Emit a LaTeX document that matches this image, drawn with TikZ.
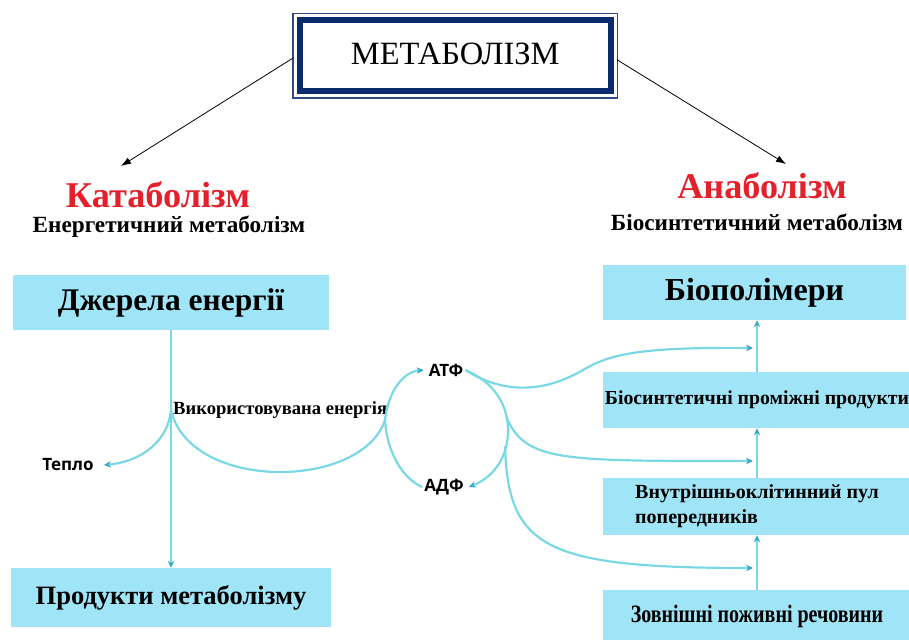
\documentclass[tikz,border=0pt]{standalone}
\usepackage{fontspec}
\setmainfont{Liberation Serif}
\newfontfamily\lblfont{Open Sans}
\usetikzlibrary{arrows.meta}
\definecolor{boxfill}{HTML}{A0E4F7}
\definecolor{flowc}{HTML}{7AD8E4}
\definecolor{tipc}{HTML}{2FA9C6}
\definecolor{navy}{HTML}{0C2B6E}
\definecolor{redt}{HTML}{E4212B}
\begin{document}
\begin{tikzpicture}[x=1pt,y=-1pt,
  box/.style={fill=boxfill, draw=none, inner sep=0pt, font=\bfseries},
  flow/.style={draw=flowc, line width=2.2pt},
  tip/.style={-{Stealth[length=7pt,width=6.5pt,color=tipc]}},
  blk/.style={-{Latex[length=10pt,width=7pt]}, line width=0.8pt, black},
  sml/.style={font=\lblfont\bfseries\fontsize{17}{20}\selectfont, inner sep=2pt}]
\useasboundingbox (0,0) rectangle (909,639);

% title
\node[draw=navy, line width=6pt, minimum width=311.5pt, minimum height=71.5pt,
      font=\fontsize{32.5}{38}\selectfont] (title) at (455.25,55.75) {\raisebox{4pt}{МЕТАБОЛІЗМ}};
\draw[navy!85, line width=1.1pt] ([shift={(-3.5pt,3.5pt)}]title.north west) rectangle ([shift={(3.5pt,-3.5pt)}]title.south east);

% headings
\node[text=redt, font=\bfseries\fontsize{36.3}{42}\selectfont] (kat) at (158,195) {Катаболізм};
\node[font=\bfseries\fontsize{23.2}{27}\selectfont] (katsub) at (169,227) {Енергетичний метаболізм};
\node[text=redt, font=\bfseries\fontsize{36.2}{42}\selectfont] (ana) at (762,186) {Анаболізм};
\node[font=\bfseries\fontsize{23.2}{27}\selectfont] (anasub) at (757,222) {Біосинтетичний метаболізм};
\coordinate (kin) at (121,166);
\coordinate (ain) at (786,164);
\draw[blk] ([xshift=-3pt,yshift=-2pt]title.west) -- (kin);
\draw[blk] ([xshift=3pt,yshift=-4pt]title.east) -- (ain);

% left boxes
\node[box, minimum width=316pt, minimum height=55pt, font=\bfseries\fontsize{31.5}{36}\selectfont] (src) at (171,302.5) {Джерела енергії};
\node[box, minimum width=320pt, minimum height=59pt, font=\bfseries\fontsize{26.5}{30}\selectfont] (prod) at (171,597.5) {Продукти метаболізму};

% right boxes
\node[box, minimum width=303pt, minimum height=55pt, font=\bfseries\fontsize{32}{36}\selectfont] (biopol) at (754.5,292.5) {Біополімери};
\node[box, minimum width=308pt, minimum height=56pt, font=\bfseries\fontsize{19.8}{23}\selectfont] (biosyn) at (757,400) {Біосинтетичні проміжні продукти};
\node[box, minimum width=308pt, minimum height=57pt, align=left, font=\bfseries\fontsize{20}{25}\selectfont] (vnut) at (757,506.5) {Внутрішньоклітинний пул\\попередників};
\node[box, minimum width=308pt, minimum height=52pt, font=\bfseries\fontsize{25}{28}\selectfont] (zov) at (757,616) {\raisebox{1pt}{\scalebox{0.8}[1]{Зовнішні поживні речовини}}};

% labels
\node[sml] (teplo) at (68,465) {Тепло};
\node[sml] (atp) at (446,370) {АТФ};
\node[sml] (adp) at (444,487) {АДФ};
\node[anchor=west, inner sep=1pt, font=\bfseries\fontsize{18.6}{22}\selectfont] (used) at (172,410) {Використовувана енергія};

\coordinate (j) at (171,410);
\coordinate (c) at (385,420);
\coordinate (e1) at (753,348);
\coordinate (e2) at (753,461);
\coordinate (e3) at (753,568);
\coordinate (r1) at (506,416);
\coordinate (r2) at (505,446);

% catabolism flows
\draw[flow, tip] (src.south) -- (prod.north);
\draw[flow, tip] (j) .. controls (168,442) and (140,462) .. ([xshift=8pt]teplo.east);
\draw[flow] (j) .. controls (190,492) and (362,490) .. (c);
\draw[flow, tip] (c) .. controls (388,393) and (402,372) .. ([xshift=-3pt]atp.west);
\draw[flow] (c) .. controls (387,452) and (402,478) .. (adp.west);
\draw[flow, tip] (atp.east) .. controls (494,382) and (508,405) .. (508,430) .. controls (508,455) and (496,476) .. ([xshift=3pt]adp.east);

% branches to anabolism
\draw[flow, tip] (atp.east) .. controls (500,392) and (540,395) .. (583,370) .. controls (610,354) and (640,347) .. (e1);
\draw[flow, tip] (r1) .. controls (525,462) and (560,461) .. (e2);
\draw[flow, tip] (r2) .. controls (508,548) and (545,568) .. (e3);

% anabolism vertical arrows
\draw[flow, tip] (zov.north) -- (vnut.south);
\draw[flow, tip] (vnut.north) -- (biosyn.south);
\draw[flow, tip] (biosyn.north) -- (biosyn.north |- biopol.south);
\end{tikzpicture}
\end{document}
